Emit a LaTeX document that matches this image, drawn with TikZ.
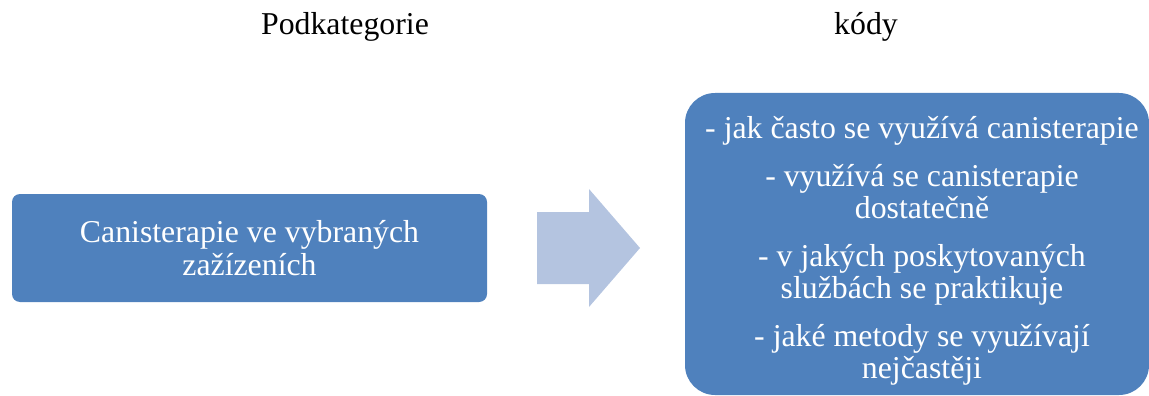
\documentclass[tikz,border=0pt]{standalone}
\usepackage{fontspec}
\setmainfont{Liberation Serif}
\definecolor{boxblue}{HTML}{4F81BD}
\definecolor{arrowblue}{HTML}{B4C4E0}
\tikzset{
  catbox/.style={fill=boxblue, draw=none, text=white, align=center,
    font=\fontsize{31.8}{32.5}\selectfont},
  head/.style={font=\fontsize{31.8}{32.5}\selectfont}
}
\begin{document}
\begin{tikzpicture}[x=1pt,y=-1pt]
  \useasboundingbox (0,0) rectangle (1149,396);
  \node[head] (hsub) at (345,27) {Podkategorie};
  \node[head] (hcode) at (866,27) {kódy};
  \node[catbox, rounded corners=8pt, minimum width=475pt, minimum height=108pt]
    (sub) at (249.5,248) {Canisterapie ve vybraných\\zažízeních};
  % block arrow
  \fill[arrowblue] (537,212) -- (589,212) -- (589,189) -- (640,248)
    -- (589,307) -- (589,284) -- (537,284) -- cycle;
  \node[catbox, rounded corners=30pt, minimum width=464pt, minimum height=302pt,
    inner sep=0pt] (codes) at (917,244) {};
  \node[catbox, fill=none] (codetext) at (922,251)
    {- jak často se využívá canisterapie\\[15pt]
     - využívá se canisterapie\\dostatečně\\[15pt]
     - v jakých poskytovaných\\službách se praktikuje\\[15pt]
     - jaké metody se využívají\\nejčastěji};
\end{tikzpicture}
\end{document}
